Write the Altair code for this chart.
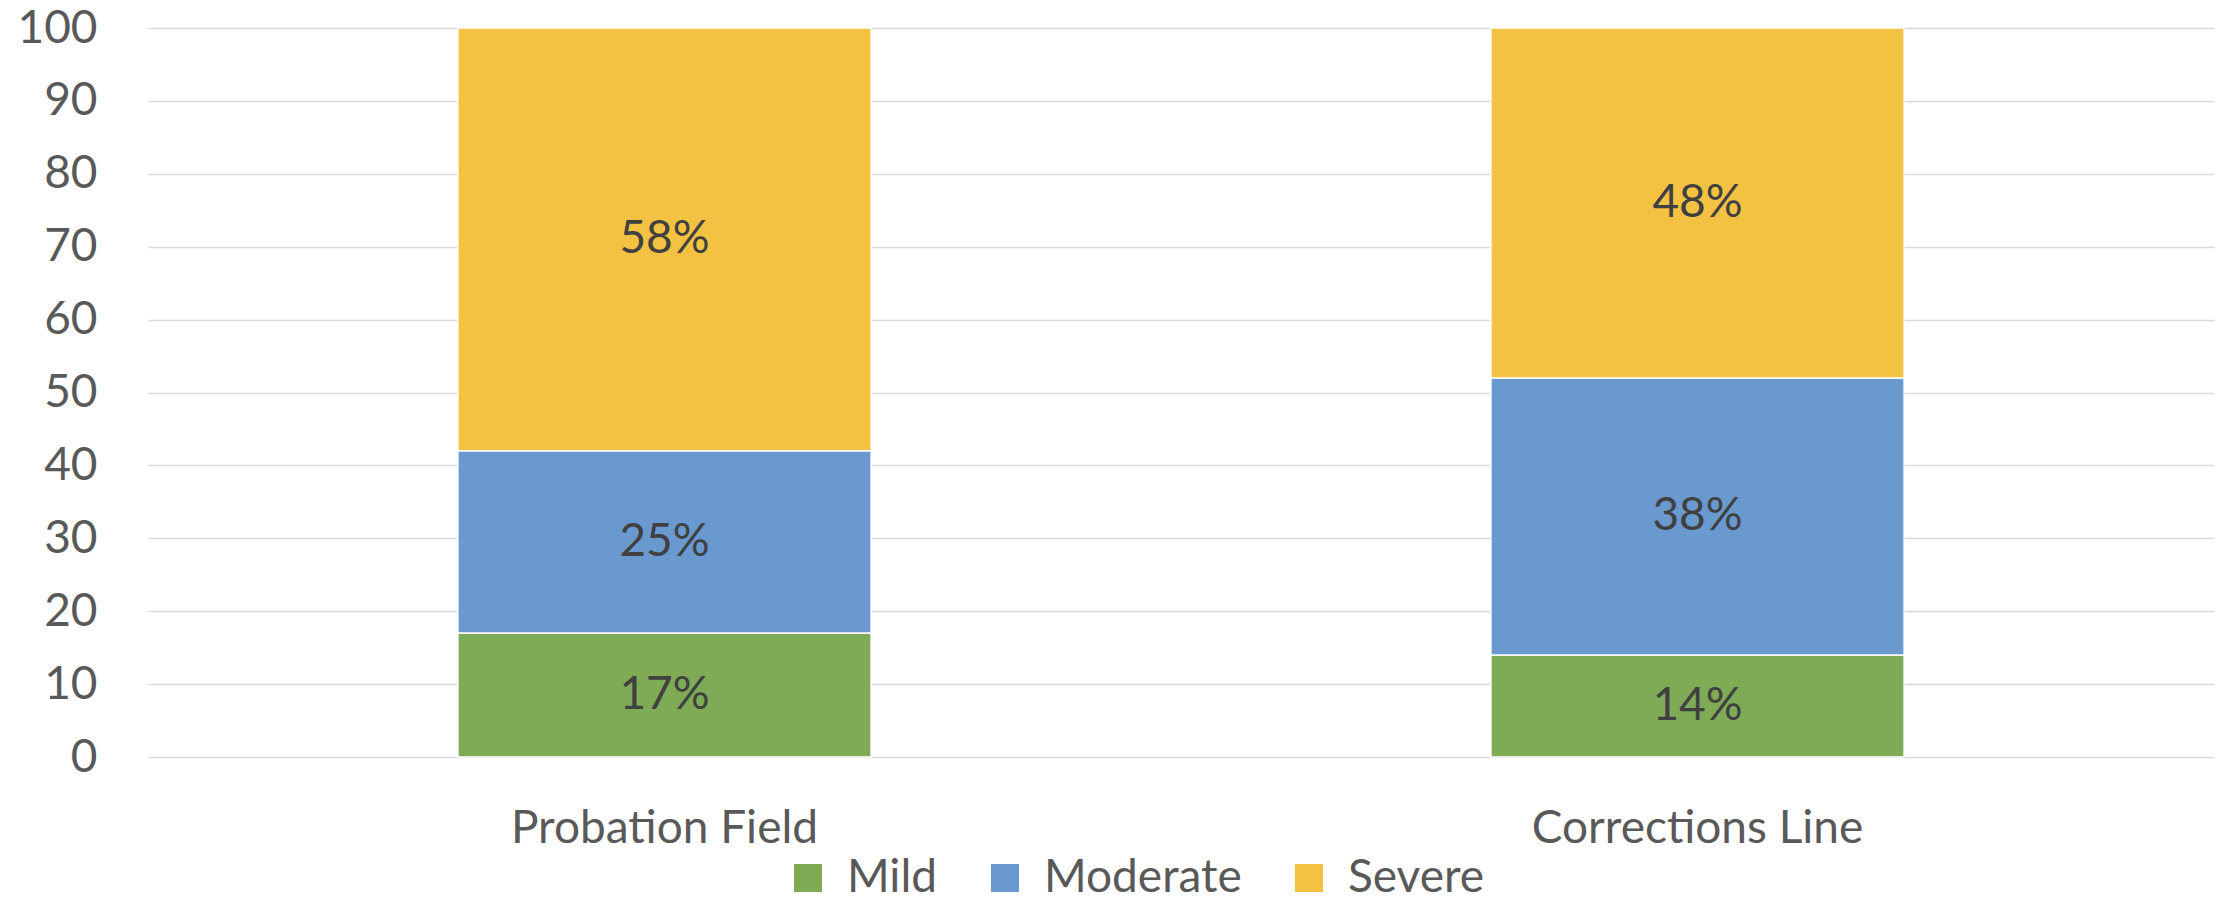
import altair as alt
import pandas as pd

# Share of cases by severity in each setting (percent)
groups = ["Probation Field", "Corrections Line"]
severity = ["Mild", "Moderate", "Severe"]
mild = [17, 14]
moderate = [25, 38]
severe = [58, 48]
y_ticks = [0, 10, 20, 30, 40, 50, 60, 70, 80, 90, 100]
colors = ["#7fab56", "#6999cf", "#f3c242"]

rows = []
for i, g in enumerate(groups):
    for k, (s, vals) in enumerate(zip(severity, [mild, moderate, severe])):
        rows.append({"group": g, "severity": s, "rank": k, "pct": vals[i]})
df = pd.DataFrame(rows)

FONT = "Lato"
LABEL_GREY = "#595959"

base = alt.Chart(df).transform_stack(
    stack="pct",
    groupby=["group"],
    sort=[alt.SortField("rank", order="ascending")],
    as_=["y0", "y1"],
).transform_calculate(
    mid="(datum.y0 + datum.y1) / 2",
    label="datum.pct + '%'",
)

x_enc = alt.X(
    "group:N",
    sort=groups,
    title=None,
    scale=alt.Scale(paddingInner=0.6, paddingOuter=0.3),
    axis=alt.Axis(
        labelAngle=0,
        labelFont=FONT,
        labelFontSize=46,
        labelColor=LABEL_GREY,
        labelLimit=0,
        ticks=False,
        domain=False,
        grid=False,
        labelPadding=49,
    ),
)

bars = base.mark_bar(stroke="white", strokeWidth=1.5).encode(
    x=x_enc,
    y=alt.Y(
        "y0:Q",
        title=None,
        scale=alt.Scale(domain=[0, 100], nice=False),
        axis=alt.Axis(
            values=y_ticks,
            labelFont=FONT,
            labelFontSize=46,
            labelColor=LABEL_GREY,
            labelLimit=0,
            ticks=False,
            domain=False,
            grid=True,
            gridColor="#d9d9d9",
            gridWidth=1.5,
            labelPadding=51,
        ),
    ),
    y2="y1:Q",
    color=alt.Color(
        "severity:N",
        sort=severity,
        scale=alt.Scale(domain=severity, range=colors),
        legend=alt.Legend(
            title=None,
            orient="none",
            direction="horizontal",
            legendX=637,
            legendY=827,
            padding=0,
            symbolType="square",
            symbolSize=784,
            symbolStrokeWidth=0,
            symbolOpacity=1,
            labelFont=FONT,
            labelFontSize=46,
            labelColor=LABEL_GREY,
            labelLimit=0,
            labelOffset=16,
            columnPadding=44,
        ),
    ),
    order=alt.Order("rank:Q"),
)

text = base.mark_text(font=FONT, fontSize=46, color="#404040").encode(
    x=alt.X("group:N", sort=groups),
    y=alt.Y("mid:Q"),
    text="label:N",
)

chart = (
    alt.layer(bars, text)
    .properties(
        width=2066,
        height=729,
        autosize=alt.AutoSizeParams(type="none"),
        padding={"left": 148, "top": 28, "right": 7, "bottom": 145},
        background="white",
    )
    .configure_view(stroke=None)
)

chart.save("out.html", embed_options={"renderer": "svg", "actions": False})
